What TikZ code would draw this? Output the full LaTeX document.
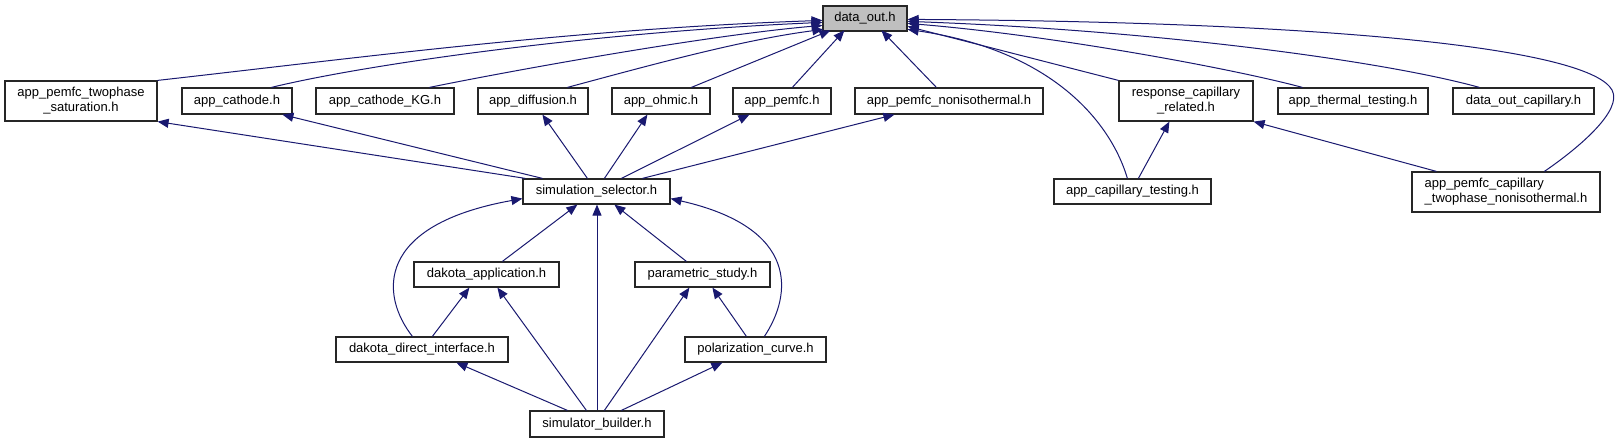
\documentclass[tikz,border=0pt]{standalone}
\usepackage{fontspec}
\setmainfont{Liberation Sans}
\usetikzlibrary{arrows.meta,calc}
\definecolor{edgecol}{RGB}{25,25,112}
\definecolor{boxgray}{RGB}{191,191,191}
\tikzset{
  box/.style={draw=black!85, line width=1.2pt, fill=white, inner sep=0pt, align=center,
    font=\fontsize{13}{15}\selectfont},
  edge/.style={draw=edgecol, line width=1pt, -{Triangle[length=11pt,width=9pt]}},
}
\begin{document}
\begin{tikzpicture}[x=1pt,y=-1pt]
\useasboundingbox[fill=white] (0,0) rectangle (1620,443);
% nodes
\node[box, fill=boxgray, minimum width=84pt, minimum height=25pt] (dout) at (865,18.5) {data\_out.h};
\node[box, minimum width=152pt, minimum height=40pt] (sat) at (81,101) {app\_pemfc\_twophase\\\_saturation.h};
\node[box, minimum width=110pt, minimum height=26pt] (cat) at (237,101) {app\_cathode.h};
\node[box, minimum width=138pt, minimum height=26pt] (catkg) at (385,101) {app\_cathode\_KG.h};
\node[box, minimum width=110pt, minimum height=26pt] (diff) at (533,101) {app\_diffusion.h};
\node[box, minimum width=98pt, minimum height=26pt] (ohm) at (661,101) {app\_ohmic.h};
\node[box, minimum width=98pt, minimum height=26pt] (pem) at (782,101) {app\_pemfc.h};
\node[box, minimum width=188pt, minimum height=26pt] (noniso) at (949,101) {app\_pemfc\_nonisothermal.h};
\node[box, minimum width=134pt, minimum height=40pt] (resp) at (1186,101) {response\_capillary\\\_related.h};
\node[box, minimum width=150pt, minimum height=26pt] (therm) at (1353,101) {app\_thermal\_testing.h};
\node[box, minimum width=141pt, minimum height=26pt] (docap) at (1523.5,101) {data\_out\_capillary.h};
\node[box, minimum width=147pt, minimum height=25pt] (simsel) at (596.5,191.5) {simulation\_selector.h};
\node[box, minimum width=157pt, minimum height=25pt] (captest) at (1132.5,191.5) {app\_capillary\_testing.h};
\node[box, align=left, minimum width=188pt, minimum height=40pt] (pcap) at (1506,192) {app\_pemfc\_capillary\\\_twophase\_nonisothermal.h};
\node[box, minimum width=145pt, minimum height=25pt] (dapp) at (486.5,274.5) {dakota\_application.h};
\node[box, minimum width=135pt, minimum height=25pt] (pstudy) at (702.5,274.5) {parametric\_study.h};
\node[box, minimum width=172pt, minimum height=25pt] (ddi) at (422,349.5) {dakota\_direct\_interface.h};
\node[box, minimum width=141pt, minimum height=25pt] (polc) at (755.5,349.5) {polarization\_curve.h};
\node[box, minimum width=134pt, minimum height=26pt] (sbuild) at (597,424) {simulator\_builder.h};
% edges to data_out (left side)
\draw[edge] (sat.north east) .. controls (357,58) and (573,29) .. ($(dout.north west)+(0,15)$);
\draw[edge] ($(cat.north west)+(90,0)$) .. controls (372,63) and (600,32) .. ($(dout.north west)+(0,17)$);
\draw[edge] ($(catkg.north west)+(114,0)$) .. controls (500,73) and (700,36) .. ($(dout.north west)+(0,20)$);
\draw[edge] ($(diff.north west)+(90,0)$) .. controls (640,68) and (740,40) .. ($(dout.north west)+(1,24)$);
\draw[edge] ($(ohm.north west)+(80,0)$) -- ($(dout.north west)+(8,25)$);
\draw[edge] ($(pem.north west)+(60,0)$) -- ($(dout.north west)+(22,25)$);
\draw[edge] ($(noniso.north west)+(82,0)$) -- ($(dout.north west)+(59,25)$);
% edges to data_out (right side)
\draw[edge] (resp.north west) -- ($(dout.north east)+(0,21)$);
\draw[edge] ($(therm.north west)+(25,0)$) .. controls (1230,68) and (1050,35) .. ($(dout.north east)+(0,18)$);
\draw[edge] ($(docap.north west)+(27,0)$) .. controls (1380,60) and (1150,30) .. ($(dout.north east)+(0,16)$);
\draw[edge] ($(captest.north west)+(74,0)$) .. controls (1110,120) and (1050,50) .. ($(dout.north east)+(0,24)$);
\draw[edge] ($(pcap.north west)+(133,0)$) .. controls (1580,147) and (1623,110) .. (1612,90)
  .. controls (1590,50) and (1350,22) .. ($(dout.north east)+(0,14)$);
% edges from simulation_selector to row 2
\draw[edge] ($(simsel.north west)+(3,0)$) -- (sat.south east);
\draw[edge] ($(simsel.north west)+(20,0)$) -- ($(cat.south west)+(101,0)$);
\draw[edge] ($(simsel.north west)+(65,0)$) -- ($(diff.south west)+(65,0)$);
\draw[edge] ($(simsel.north west)+(82,0)$) -- ($(ohm.south west)+(36,0)$);
\draw[edge] ($(simsel.north west)+(99,0)$) -- ($(pem.south west)+(17,0)$);
\draw[edge] ($(simsel.north west)+(120,0)$) -- ($(noniso.south west)+(40,0)$);
% lower part
\draw[edge] ($(dapp.north west)+(89,0)$) -- ($(simsel.south west)+(55,0)$);
\draw[edge] (sbuild.north) -- (sbuild.north |- simsel.south);
\draw[edge] ($(pstudy.north west)+(52,0)$) -- ($(simsel.south west)+(92,0)$);
\draw[edge] ($(ddi.north west)+(77,0)$) .. controls (380,295) and (375,225) .. ($(simsel.south west)+(0,-6)$);
\draw[edge] ($(polc.north west)+(80,0)$) .. controls (792,295) and (800,228) .. ($(simsel.south east)+(0,-6)$);
\draw[edge] ($(ddi.north west)+(97,0)$) -- ($(dapp.south west)+(56,0)$);
\draw[edge] ($(sbuild.north west)+(57,0)$) -- ($(dapp.south west)+(84,0)$);
\draw[edge] ($(sbuild.north west)+(75,0)$) -- ($(pstudy.south west)+(55,0)$);
\draw[edge] ($(polc.north west)+(62,0)$) -- ($(pstudy.south west)+(78,0)$);
\draw[edge] ($(sbuild.north west)+(38,0)$) -- ($(ddi.south west)+(121,0)$);
\draw[edge] ($(sbuild.north west)+(92,0)$) -- ($(polc.south west)+(38,0)$);
% capillary group
\draw[edge] ($(captest.north west)+(85,0)$) -- ($(resp.south west)+(51,0)$);
\draw[edge] ($(pcap.north west)+(25,0)$) -- (resp.south east);
\end{tikzpicture}
\end{document}
